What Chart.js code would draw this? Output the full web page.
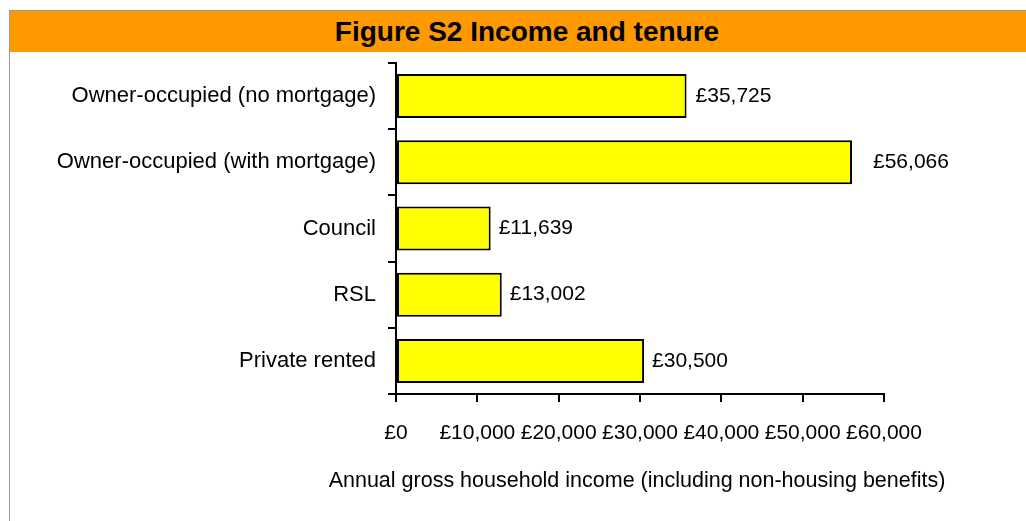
<!DOCTYPE html>
<html lang="en">
  <head>
    <meta charset="UTF-8" />
    <title>Figure S2 Income and tenure</title>
    <script src="https://cdn.jsdelivr.net/npm/chart.js"></script>
    <style>
      html, body { margin: 0; padding: 0; background: #fff; }
      body { width: 1026px; height: 521px; position: relative; overflow: hidden; font-family: "Liberation Sans", Arial, sans-serif; }
      .frame { position: absolute; left: 9px; top: 10px; width: 1030px; height: 520px; border-left: 1px solid #999; border-top: 1px solid #999; }
      .header { position: absolute; left: 10px; top: 11px; width: 1016px; height: 41px; background: #ff9900; }
      .header h1 { margin: 0; position: absolute; left: 18px; right: 0; top: 0; line-height: 41px; text-align: center; font-size: 28px; font-weight: bold; color: #000; }
      .chart { position: absolute; left: 0; top: 0; width: 1026px; height: 521px; }
    </style>
  </head>
  <body>
    <div class="frame"></div>
    <div class="header"><h1>Figure S2 Income and tenure</h1></div>
    <div class="chart"><canvas id="tenureChart"></canvas></div>

    <script>
      // dados
      const tenures = [
        "Owner-occupied (no mortgage)",
        "Owner-occupied (with mortgage)",
        "Council",
        "RSL",
        "Private rented",
      ];
      const incomes = [35725, 56066, 11639, 13002, 30500];
      const xTitle = "Annual gross household income (including non-housing benefits)";

      const pounds = (v) => "£" + Number(v).toLocaleString("en-GB");
      const fontFamily = "'Liberation Sans', Arial, sans-serif";

      // rótulos de valor ao lado das barras + título do eixo x
      const valueLabels = {
        id: "valueLabels",
        afterDatasetsDraw(chart, args, opts) {
          const ctx = chart.ctx;
          const meta = chart.getDatasetMeta(0);
          ctx.save();
          ctx.font = "21px " + fontFamily;
          ctx.fillStyle = "#000";
          ctx.textAlign = "left";
          ctx.textBaseline = "middle";
          meta.data.forEach((bar, i) => {
            const gap = opts.gaps[i] || 8;
            ctx.fillText(pounds(incomes[i]), bar.x + gap, bar.y);
          });

          // título do eixo (sem maxWidth, para não comprimir o texto)
          const area = chart.chartArea;
          ctx.font = "21.5px " + fontFamily;
          ctx.textAlign = "center";
          ctx.fillText(xTitle, (area.left + area.right) / 2 - 3, area.bottom + 87);
          ctx.restore();
        },
      };

      const ctx = document.getElementById("tenureChart").getContext("2d");
      new Chart(ctx, {
        type: "bar",
        data: {
          labels: tenures,
          datasets: [
            {
              data: incomes,
              backgroundColor: "#ffff00",
              borderColor: "#000",
              borderWidth: 2,
              borderSkipped: false,
              barPercentage: 0.665,
              categoryPercentage: 1,
            },
          ],
        },
        options: {
          indexAxis: "y",
          responsive: true,
          maintainAspectRatio: false,
          animation: false,
          layout: { padding: { top: 63, right: 142, left: 0, bottom: 0 } },
          plugins: {
            legend: { display: false },
            tooltip: { enabled: false },
            valueLabels: { gaps: [9, 21, 8, 8, 8] },
          },
          scales: {
            x: {
              min: 0,
              max: 60000,
              ticks: {
                stepSize: 10000,
                callback: (v) => pounds(v),
                color: "#000",
                font: { size: 21, family: fontFamily },
                padding: 19,
                maxRotation: 0,
                autoSkip: false,
              },
              grid: { drawOnChartArea: false, drawTicks: true, tickLength: 8, color: "#000", lineWidth: 2 },
              border: { display: true, color: "#000", width: 2 },
              afterFit: (scale) => { scale.height = 127; },
            },
            y: {
              ticks: {
                color: "#000",
                font: { size: 22, family: fontFamily },
                padding: 12,
              },
              grid: { offset: true, drawOnChartArea: false, drawTicks: true, tickLength: 8, color: "#000", lineWidth: 2 },
              border: { display: true, color: "#000", width: 2 },
              afterFit: (scale) => { scale.width = 396; },
            },
          },
        },
        plugins: [valueLabels],
      });
    </script>
  </body>
</html>
